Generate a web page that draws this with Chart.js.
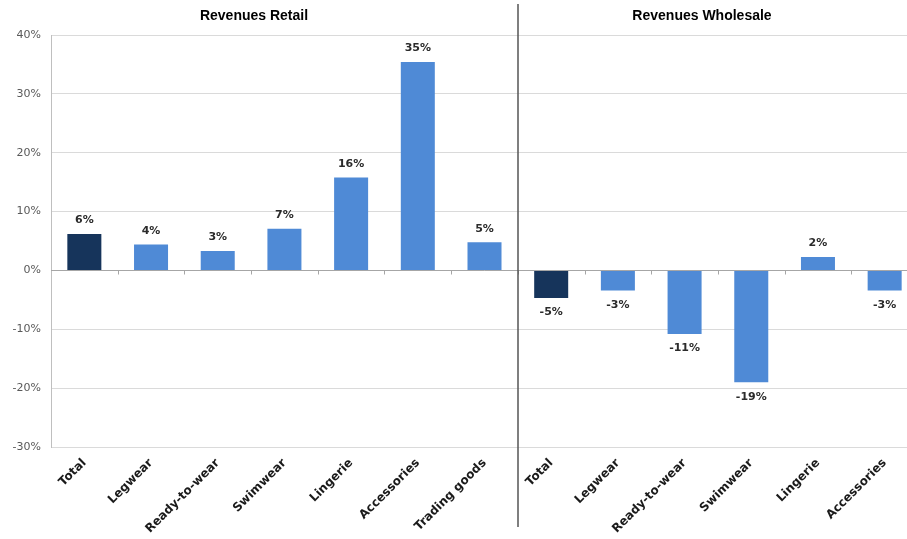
<!DOCTYPE html>
<html>
<head>
<meta charset="utf-8">
<script src="https://cdn.jsdelivr.net/npm/chart.js@4.4.1/dist/chart.umd.min.js"></script>
<style>
  html, body { margin: 0; padding: 0; overflow: hidden; background: #fff; width: 907px; height: 539px; }
  canvas { display: block; }
</style>
</head>
<body>
<canvas id="chart" width="918" height="539"></canvas>
<script>
// Revenue growth by product group, retail vs. wholesale (in %)
const retailCategories = ['Total', 'Legwear', 'Ready-to-wear', 'Swimwear', 'Lingerie', 'Accessories', 'Trading goods'];
const retailGrowth = [6.2, 4.4, 3.3, 7.1, 15.8, 35.4, 4.8];
const wholesaleCategories = ['Total', 'Legwear', 'Ready-to-wear', 'Swimwear', 'Lingerie', 'Accessories'];
const wholesaleGrowth = [-4.7, -3.4, -10.8, -19.0, 2.3, -3.4];
const segmentTitles = ['Revenues Retail', 'Revenues Wholesale'];
const yMin = -30, yMax = 40, yStep = 10;

const labels = retailCategories.concat(wholesaleCategories);
const values = retailGrowth.concat(wholesaleGrowth);
const totalColor = '#16345b';
const groupColor = '#4f8ad6';
const barColors = labels.map(l => l === 'Total' ? totalColor : groupColor);

const decorations = {
  id: 'decorations',
  beforeDatasetsDraw(chart) {
    const { ctx, chartArea, scales: { x, y } } = chart;
    const y0 = Math.round(y.getPixelForValue(0)) + 0.5;
    const step = x.getPixelForValue(1) - x.getPixelForValue(0);
    ctx.save();
    ctx.strokeStyle = '#a6a6a6';
    ctx.lineWidth = 1;
    ctx.beginPath();
    ctx.moveTo(chartArea.left, y0);
    ctx.lineTo(chartArea.right, y0);
    for (let i = 1; i < labels.length; i++) {
      const px = Math.round(x.getPixelForValue(i) - step / 2) + 0.5;
      ctx.moveTo(px, y0);
      ctx.lineTo(px, y0 + 4);
    }
    ctx.stroke();
    ctx.restore();
  },
  afterDatasetsDraw(chart) {
    const { ctx, scales: { x, y } } = chart;
    const meta = chart.getDatasetMeta(0);
    ctx.save();
    // value labels
    ctx.font = 'bold 11px "DejaVu Sans", sans-serif';
    ctx.fillStyle = '#2b2b2b';
    ctx.textAlign = 'center';
    meta.data.forEach((bar, i) => {
      const v = values[i];
      const txt = Math.round(v) + '%';
      if (v >= 0) {
        ctx.textBaseline = 'bottom';
        ctx.fillText(txt, bar.x, bar.y - 8);
      } else {
        ctx.textBaseline = 'top';
        ctx.fillText(txt, bar.x, bar.y + 9);
      }
    });
    // divider between the two segments
    const split = Math.round((x.getPixelForValue(retailCategories.length - 1) + x.getPixelForValue(retailCategories.length)) / 2);
    ctx.strokeStyle = '#555';
    ctx.lineWidth = 1.5;
    ctx.beginPath();
    ctx.moveTo(split, 4);
    ctx.lineTo(split, 527);
    ctx.stroke();
    // segment headings
    ctx.font = 'bold 14px "Liberation Sans", Arial, sans-serif';
    ctx.fillStyle = '#000';
    ctx.textBaseline = 'middle';
    ctx.fillText(segmentTitles[0], 254, 16);
    ctx.fillText(segmentTitles[1], 702, 16);
    ctx.restore();
  }
};

new Chart(document.getElementById('chart'), {
  type: 'bar',
  data: {
    labels: labels,
    datasets: [{
      data: values,
      backgroundColor: barColors,
      borderWidth: 0,
      categoryPercentage: 1,
      barPercentage: 0.51
    }]
  },
  options: {
    responsive: false,
    animation: false,
    devicePixelRatio: 1,
    layout: { padding: { top: 35, left: 0, right: 0, bottom: 0 } },
    plugins: { legend: { display: false }, tooltip: { enabled: false }, title: { display: false } },
    scales: {
      x: {
        grid: { display: false, drawTicks: false },
        border: { display: false },
        ticks: {
          autoSkip: false,
          minRotation: 45,
          maxRotation: 45,
          padding: 9,
          color: '#1a1a1a',
          font: { family: '"DejaVu Sans", sans-serif', weight: 'bold', size: 12 }
        },
        afterFit(scale) { scale.height = 92; }
      },
      y: {
        min: yMin,
        max: yMax,
        ticks: {
          stepSize: yStep,
          padding: 10,
          color: '#595959',
          font: { family: '"DejaVu Sans", sans-serif', size: 11 },
          callback: v => v + '%'
        },
        grid: { color: '#dadada', drawTicks: false },
        border: { color: '#bfbfbf' },
        afterFit(scale) { scale.width = 51; }
      }
    }
  },
  plugins: [decorations]
});
</script>
</body>
</html>
